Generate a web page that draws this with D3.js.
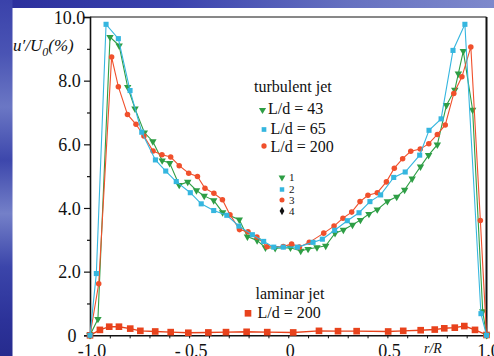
<!DOCTYPE html>
<html><head><meta charset="utf-8">
<script src="https://cdn.jsdelivr.net/npm/d3@7"></script>
<style>body{margin:0;background:#fff;overflow:hidden}svg{display:block}text{font-family:"Liberation Serif","Times New Roman",serif;fill:#111}</style>
</head><body><svg id="c" width="494" height="356"></svg>
<script>
// ---- data ----
const greenR = [-1.0,-0.960,-0.899,-0.853,-0.810,-0.773,-0.726,-0.683,-0.636,-0.598,-0.550,-0.507,-0.463,-0.424,-0.376,-0.331,-0.247,-0.206,-0.157,-0.115,-0.066,0.011,0.063,0.100,0.145,0.189,0.236,0.278,0.324,0.364,0.407,0.449,0.500,0.547,0.587,0.625,0.667,0.708,0.752,0.798,0.840,0.858,0.883,0.930,0.981,1.0];
const greenV = [0,0.51,9.37,9.10,7.80,7.12,6.37,6.09,5.49,5.41,4.72,4.82,4.55,4.38,4.24,3.86,3.63,3.10,2.98,2.75,2.74,2.75,2.65,2.71,2.76,2.81,3.21,3.31,3.47,3.62,3.81,3.95,4.21,4.35,4.57,4.92,5.30,5.66,5.99,7.23,7.71,8.22,8.93,7.08,0.75,0];
const cyanR = [-1.0,-0.968,-0.919,-0.857,-0.798,-0.739,-0.670,-0.618,-0.565,-0.494,-0.439,-0.376,-0.310,-0.249,-0.181,-0.124,-0.073,-0.025,0.046,0.125,0.172,0.234,0.298,0.357,0.412,0.466,0.532,0.590,0.663,0.710,0.771,0.831,0.891,0.972,1.0];
const cyanV = [0,1.94,9.77,9.32,7.69,6.38,5.51,5.16,4.83,4.48,4.13,3.92,3.77,3.43,3.16,2.95,2.77,2.77,2.77,2.92,3.02,3.30,3.60,3.85,4.20,4.41,4.96,5.13,5.66,6.44,6.80,8.95,9.77,0.68,0];
const redR = [-1.0,-0.956,-0.891,-0.857,-0.811,-0.768,-0.728,-0.682,-0.637,-0.593,-0.550,-0.502,-0.458,-0.420,-0.375,-0.332,-0.294,-0.246,-0.203,-0.158,-0.107,-0.025,0.017,0.056,0.106,0.179,0.231,0.276,0.320,0.362,0.402,0.449,0.495,0.535,0.577,0.618,0.666,0.709,0.752,0.792,0.835,0.876,0.921,0.969,1.0];
const redV = [0,1.62,8.74,7.81,6.94,6.63,6.26,5.79,5.67,5.60,5.33,5.09,4.99,4.62,4.46,4.26,3.79,3.32,3.25,3.09,2.78,2.79,2.87,2.77,2.92,3.21,3.43,3.68,3.87,4.20,4.40,4.48,4.82,5.25,5.55,5.78,5.85,6.02,6.31,6.61,7.60,8.12,9.06,3.61,0];
const lamR = [-1.0,-0.950,-0.903,-0.854,-0.797,-0.746,-0.671,-0.593,-0.504,-0.403,-0.314,-0.210,-0.106,0.025,0.155,0.251,0.345,0.504,0.580,0.668,0.739,0.787,0.840,0.888,0.942,1.0];
const lamV = [0,0.17,0.27,0.27,0.21,0.14,0.12,0.10,0.08,0.09,0.10,0.11,0.10,0.09,0.14,0.13,0.13,0.12,0.14,0.16,0.18,0.22,0.24,0.29,0.17,0.01];
const yMajor = [0,2,4,6,8,10];
const yMinor = [1,3,5,7,9];
const yLabels = ["0","2.0","4.0","6.0","8.0","10.0"];
const xTickVals = d3.range(-10,11).map(i=>i/10);
const xLabelVals = [-1,-0.5,0,0.5,1];
const xLabels = ["-1.0","- 0.5","0","0.5","1.0"];
const legendTurb = ["L/d = 43","L/d = 65","L/d = 200"];
const legendNum = ["1","2","3","4"];

const GREEN="#2e9e45", CYAN="#35b6df", RED="#f0502c", LAM="#e8421c";

const svg = d3.select("#c");
const defs = svg.append("defs");
const gTop = defs.append("linearGradient").attr("id","gt").attr("x1",0).attr("x2",1).attr("y1",0).attr("y2",0);
[[0,"#2b2f9c"],[0.35,"#3a42ad"],[0.7,"#6570c0"],[1,"#7e89cc"]].forEach(s=>gTop.append("stop").attr("offset",s[0]).attr("stop-color",s[1]));
const gLeft = defs.append("linearGradient").attr("id","gl").attr("x1",0).attr("x2",0).attr("y1",0).attr("y2",1);
[[0,"#3a42aa"],[0.15,"#4a54b4"],[0.3,"#6b77c4"],[0.45,"#3d47ac"],[0.6,"#7480c8"],[0.75,"#3b45aa"],[0.9,"#2c3299"],[1,"#262b8e"]].forEach(s=>gLeft.append("stop").attr("offset",s[0]).attr("stop-color",s[1]));

svg.append("rect").attr("width",494).attr("height",356).attr("fill","#fff");

const x = d3.scaleLinear().domain([-1,1]).range([90,486.5]);
const y = d3.scaleLinear().domain([0,10]).range([335.3,17]);

// axes
const yAxMaj = d3.axisLeft(y).tickValues(yMajor).tickSize(6).tickFormat((d,i)=>yLabels[i]);
const ya = svg.append("g").attr("transform","translate(90,0)").call(yAxMaj);
ya.select(".domain").attr("stroke","#111").attr("stroke-width",1.6);
ya.selectAll(".tick line").attr("stroke","#111").attr("stroke-width",1.2);
ya.selectAll(".tick text").attr("x",-20.5).attr("text-anchor","middle").attr("dy","0.34em")
  .style("font-size","18px").attr("font-family","Liberation Serif").attr("fill","#111")
  .attr("x",d=>d===0?-18:-20.5);
const yAxMin = d3.axisLeft(y).tickValues(yMinor).tickSize(3).tickFormat("");
const ym = svg.append("g").attr("transform","translate(90,0)").call(yAxMin);
ym.select(".domain").remove();
ym.selectAll(".tick line").attr("stroke","#111").attr("stroke-width",1.2);

const xAx = d3.axisBottom(x).tickValues(xTickVals).tickSize(3).tickFormat("");
const xa = svg.append("g").attr("transform","translate(0,335.3)").call(xAx);
xa.select(".domain").attr("stroke","#111").attr("stroke-width",1.4);
xa.selectAll(".tick line").attr("stroke","#111").attr("stroke-width",1);
svg.append("g").selectAll("text").data(xLabelVals).join("text")
  .attr("x",(d)=>x(d)+2).attr("y",357).attr("text-anchor","middle")
  .style("font-size","18px").text((d,i)=>xLabels[i]);

// frame
svg.append("line").attr("x1",x(-1)).attr("x2",x(1)).attr("y1",y(10)).attr("y2",y(10)).attr("stroke","#111").attr("stroke-width",1);
svg.append("line").attr("x1",x(1)).attr("x2",x(1)).attr("y1",y(10)).attr("y2",y(0)).attr("stroke","#111").attr("stroke-width",2);

// series
const line = d3.line().x(d=>x(d[0])).y(d=>y(d[1]));
function series(R,V,color,sym,size,rot,lw){
  const pts = R.map((r,i)=>[r,V[i]]);
  svg.append("path").datum(pts).attr("d",line).attr("fill","none").attr("stroke",color).attr("stroke-width",lw);
  svg.append("g").selectAll("path").data(pts).join("path")
    .attr("d",d3.symbol().type(sym).size(size))
    .attr("transform",d=>`translate(${x(d[0])},${y(d[1])}) rotate(${rot})`)
    .attr("fill",color);
}
series(lamR,lamV,LAM,d3.symbolSquare,44,0,1.4);
series(greenR,greenV,GREEN,d3.symbolTriangle,24,180,1.1);
series(redR,redV,RED,d3.symbolCircle,24,0,1.1);
series(cyanR,cyanV,CYAN,d3.symbolSquare,26,0,1.1);

// labels
const yl = svg.append("text").attr("x",13).attr("y",51).style("font-size","17px").style("font-style","italic");
yl.append("tspan").text("u′/U");
yl.append("tspan").attr("dy",5).style("font-size","12px").text("0");
yl.append("tspan").attr("dy",-5).text("(%)");
svg.append("text").attr("x",424).attr("y",353).style("font-size","14px").style("font-style","italic").text("r/R");

// turbulent legend
svg.append("text").attr("x",254).attr("y",92).style("font-size","16px").text("turbulent jet");
const tl = [[GREEN,d3.symbolTriangle,180,110,114],[CYAN,d3.symbolSquare,0,129.5,134],[RED,d3.symbolCircle,0,146,152]];
tl.forEach((t,i)=>{
  svg.append("path").attr("d",d3.symbol().type(t[1]).size(22)()).attr("transform",`translate(${i==0?262.5:264},${t[3]}) rotate(${t[2]})`).attr("fill",t[0]);
  svg.append("text").attr("x",i==0?268:270.5).attr("y",t[4]).style("font-size","16px").text(legendTurb[i]);
});
// numbered legend
const nl = [[GREEN,d3.symbolTriangle,180,177.5,181],[CYAN,d3.symbolSquare,0,189.5,193],[RED,d3.symbolCircle,0,200,203.5],["#111",d3.symbolDiamond,0,211,215]];
nl.forEach((t,i)=>{
  svg.append("path").attr("d",d3.symbol().type(t[1]).size(20)()).attr("transform",`translate(282,${t[3]}) rotate(${t[2]})`).attr("fill",t[0]);
  svg.append("text").attr("x",289).attr("y",t[4]).style("font-size","11px").text(legendNum[i]);
});
// laminar legend
svg.append("text").attr("x",255.5).attr("y",299).style("font-size","16px").text("laminar jet");
svg.append("path").attr("d",d3.symbol().type(d3.symbolSquare).size(44)()).attr("transform","translate(248,313.3)").attr("fill",LAM);
svg.append("text").attr("x",257.5).attr("y",318).style("font-size","16px").text("L/d = 200");

// slide background strips
svg.append("rect").attr("x",0).attr("y",0).attr("width",494).attr("height",8).attr("fill","url(#gt)");
svg.append("rect").attr("x",0).attr("y",0).attr("width",12.5).attr("height",356).attr("fill","url(#gl)");
</script></body></html>
